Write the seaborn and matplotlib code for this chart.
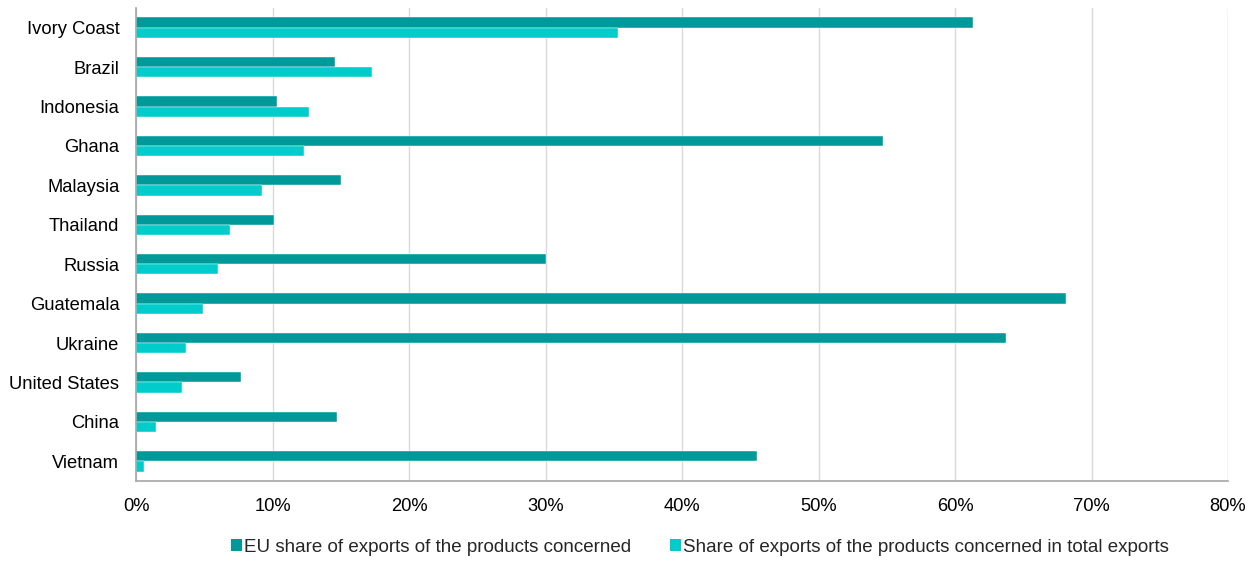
import matplotlib
matplotlib.use("Agg")
import matplotlib.pyplot as plt
import seaborn as sns
import pandas as pd
from matplotlib.ticker import PercentFormatter
from matplotlib.patches import Patch

countries = ["Ivory Coast", "Brazil", "Indonesia", "Ghana", "Malaysia", "Thailand",
             "Russia", "Guatemala", "Ukraine", "United States", "China", "Vietnam"]
eu_share = [61.3, 14.6, 10.3, 54.75, 15.0, 10.1, 30.0, 68.15, 63.7, 7.7, 14.7, 45.5]
product_share = [35.3, 17.3, 12.7, 12.3, 9.25, 6.9, 6.0, 4.9, 3.65, 3.35, 1.45, 0.55]
series_names = ["EU share of exports of the products concerned",
                "Share of exports of the products concerned in total exports"]
colors = ["#009999", "#00CCCC"]

df = pd.DataFrame({
    "country": countries * 2,
    "value": eu_share + product_share,
    "series": [series_names[0]] * len(countries) + [series_names[1]] * len(countries),
})

sns.set_style("white")
plt.rcParams["font.family"] = ["Liberation Sans", "DejaVu Sans"]

fig = plt.figure(figsize=(12.57, 5.61), dpi=100)
ax = fig.add_axes([136 / 1257, 1 - 481 / 561, (1228 - 136) / 1257, (481 - 8) / 561])

sns.barplot(data=df, y="country", x="value", hue="series", order=countries,
            hue_order=series_names, palette=colors, saturation=1, width=0.52, orient="h",
            edgecolor="white", linewidth=0.3, ax=ax, legend=False)

ax.set_xlim(0, 80)
ax.set_ylim(11.5, -0.5)
ax.set_xticks(range(0, 81, 10))
ax.xaxis.set_major_formatter(PercentFormatter(decimals=0))
ax.grid(axis="x", color="#d9d9d9", linewidth=1)
ax.set_axisbelow(True)
ax.set_xlabel("")
ax.set_ylabel("")
ax.tick_params(axis="both", length=0, labelsize=13.2, colors="#000000")
ax.tick_params(axis="x", pad=12)
ax.tick_params(axis="y", pad=12)
for s in ["top", "right"]:
    ax.spines[s].set_visible(False)
for s in ["left", "bottom"]:
    ax.spines[s].set_color("#a6a6a6")
    ax.spines[s].set_linewidth(1.2)

handles = [Patch(facecolor=c, edgecolor="none") for c in colors]
fig.legend(handles, series_names, loc="center", bbox_to_anchor=(700 / 1257, 1 - 547 / 561),
           ncol=2, frameon=False, fontsize=13.5, handlelength=0.55, handleheight=0.55,
           handletextpad=0.12, columnspacing=2.1)

fig.savefig("out.png", dpi=100)
